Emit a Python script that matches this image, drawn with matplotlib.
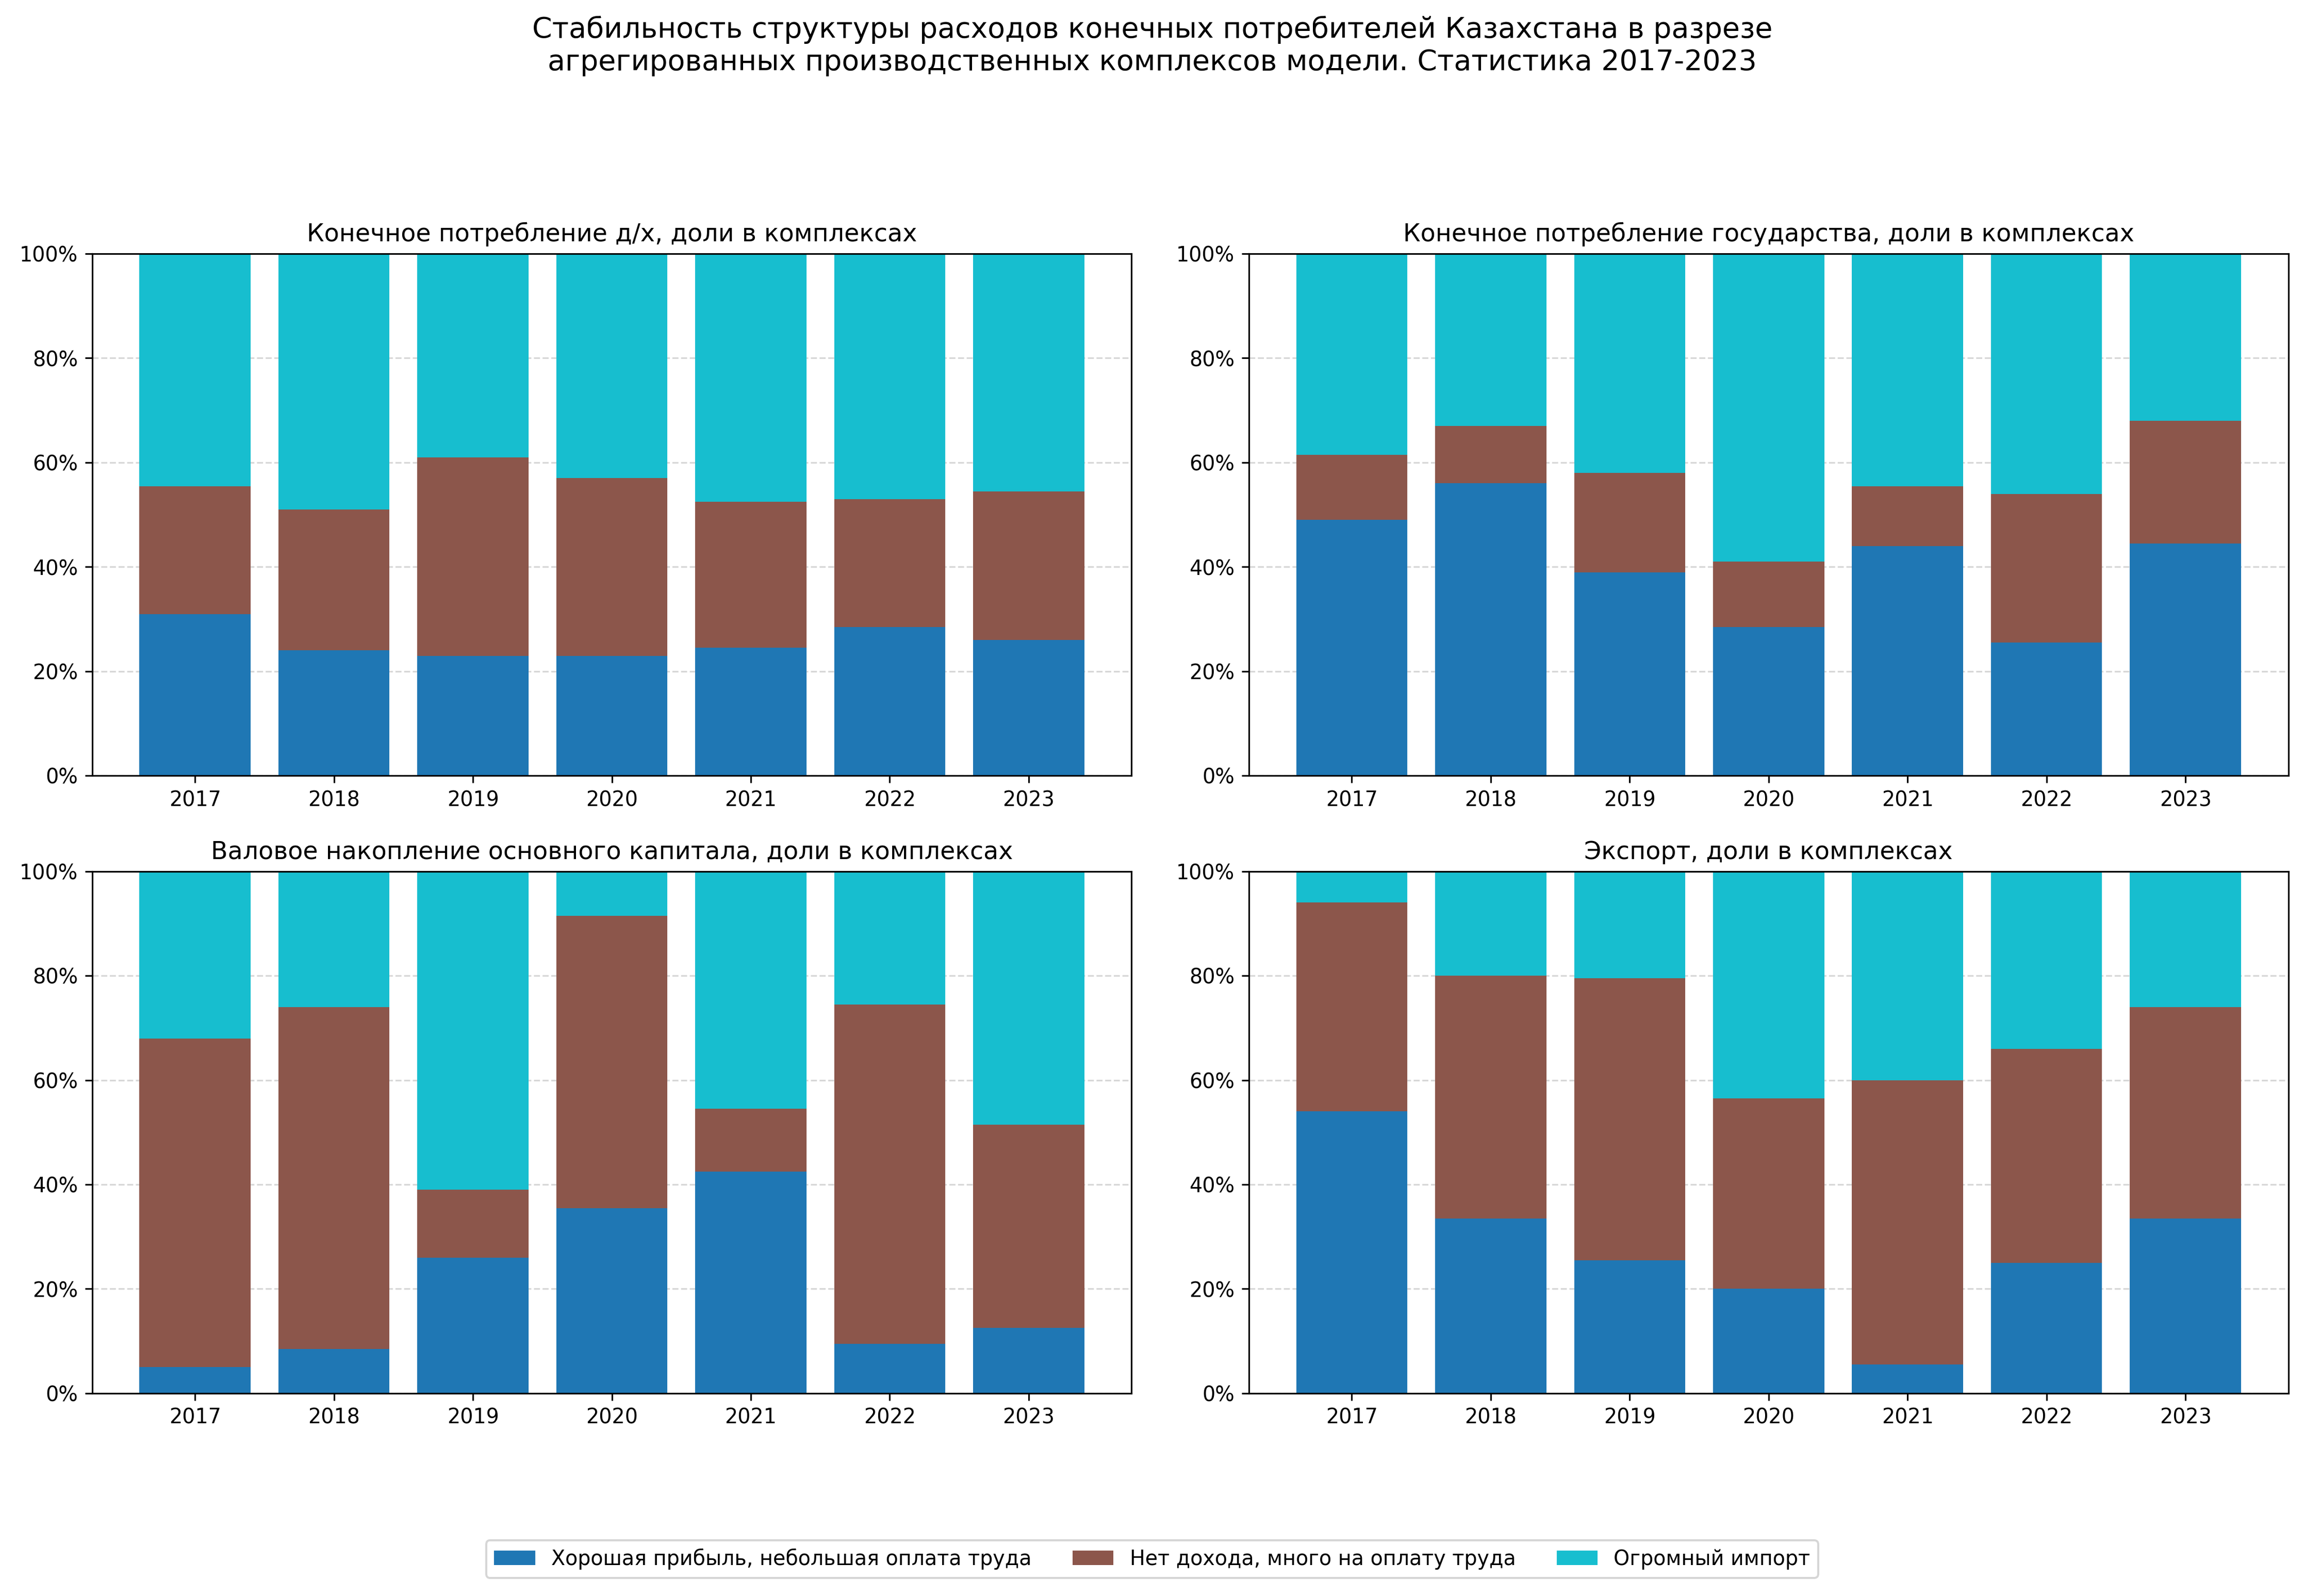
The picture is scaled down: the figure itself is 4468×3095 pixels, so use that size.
import matplotlib
matplotlib.use("Agg")
import matplotlib.pyplot as plt
import numpy as np
from matplotlib.ticker import PercentFormatter

years = ["2017", "2018", "2019", "2020", "2021", "2022", "2023"]
series_names = ["Хорошая прибыль, небольшая оплата труда",
                "Нет дохода, много на оплату труда",
                "Огромный импорт"]
titles = ["Конечное потребление д/х, доли в комплексах",
          "Конечное потребление государства, доли в комплексах",
          "Валовое накопление основного капитала, доли в комплексах",
          "Экспорт, доли в комплексах"]

hh_profit = [31, 24, 23, 23, 24.5, 28.5, 26]
hh_labor = [24.5, 27, 38, 34, 28, 24.5, 28.5]
gov_profit = [49, 56, 39, 28.5, 44, 25.5, 44.5]
gov_labor = [12.5, 11, 19, 12.5, 11.5, 28.5, 23.5]
inv_profit = [5, 8.5, 26, 35.5, 42.5, 9.5, 12.5]
inv_labor = [63, 65.5, 13, 56, 12, 65, 39]
exp_profit = [54, 33.5, 25.5, 20, 5.5, 25, 33.5]
exp_labor = [40, 46.5, 54, 36.5, 54.5, 41, 40.5]

panels = [(hh_profit, hh_labor), (gov_profit, gov_labor),
          (inv_profit, inv_labor), (exp_profit, exp_labor)]
colors = ["#1f77b4", "#8c564b", "#17becf"]

fig, axes = plt.subplots(2, 2, figsize=(15.68, 10.86), dpi=285)
fig.subplots_adjust(left=0.04, right=0.993, top=0.841, bottom=0.127,
                    wspace=0.113, hspace=0.183)
x = np.arange(len(years))
for ax, (p, l), t in zip(axes.flat, panels, titles):
    p = np.array(p) / 100
    l = np.array(l) / 100
    imp = 1 - p - l
    ax.bar(x, p, 0.8, color=colors[0], label=series_names[0], zorder=2)
    ax.bar(x, l, 0.8, bottom=p, color=colors[1], label=series_names[1], zorder=2)
    ax.bar(x, imp, 0.8, bottom=p + l, color=colors[2], label=series_names[2], zorder=2)
    ax.set_xticks(x)
    ax.set_xticklabels(years)
    ax.set_ylim(0, 1)
    ax.yaxis.set_major_formatter(PercentFormatter(1.0, decimals=0))
    ax.grid(axis="y", linestyle="--", alpha=0.5, zorder=0)
    ax.set_title(t, fontsize=12)

h, lab = axes[0, 0].get_legend_handles_labels()
fig.legend(h, lab, loc="lower center", ncol=3, bbox_to_anchor=(0.5, 0.005))
fig.suptitle("Стабильность структуры расходов конечных потребителей Казахстана в разрезе\n"
             "агрегированных производственных комплексов модели. Статистика 2017-2023",
             fontsize=14, y=0.99)
fig.savefig("out.png")
